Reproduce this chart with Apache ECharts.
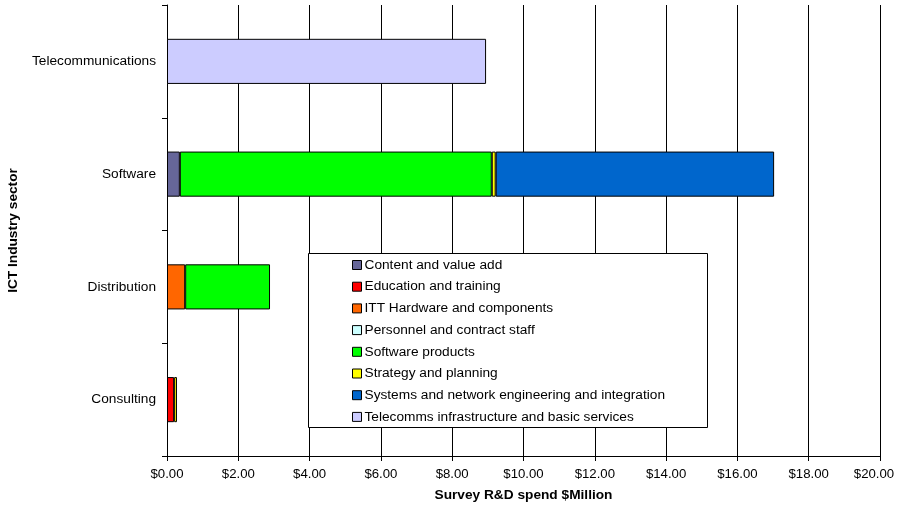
<!DOCTYPE html>
<html>
<head>
<meta charset="utf-8">
<script src="https://cdn.jsdelivr.net/npm/echarts@6/dist/echarts.min.js"></script>
<style>
  html, body { margin: 0; padding: 0; background: #fff; }
  #chart { width: 899px; height: 508px; }
</style>
</head>
<body>
<div id="chart"></div>
<script>
// ICT industry sectors (bottom to top)
var sectors = ['Consulting', 'Distribution', 'Software', 'Telecommunications'];

// Survey R&D spend ($Million) per spend category, one value per sector
var contentValueAdd   = [null, null, 0.36, null];
var educationTraining = [0.20, null, null, null];
var ittHardware       = [null, 0.51, null, null];
var personnelContract = [null, null, null, null];
var softwareProducts  = [null, 2.38, 8.75, null];
var strategyPlanning  = [0.08, null, 0.11, null];
var systemsNetwork    = [null, null, 7.81, null];
var telecommsInfra    = [null, null, null, 8.95];

var seriesNames = [
  'Content and value add',
  'Education and training',
  'ITT Hardware and components',
  'Personnel and contract staff',
  'Software products',
  'Strategy and planning',
  'Systems and network engineering and integration',
  'Telecomms infrastructure and basic services'
];
var seriesData = [contentValueAdd, educationTraining, ittHardware, personnelContract,
                  softwareProducts, strategyPlanning, systemsNetwork, telecommsInfra];
var seriesColors = ['#666699', '#FF0000', '#FF6600', '#CCFFFF',
                    '#00FF00', '#FFFF00', '#0066CC', '#CCCCFF'];

var xTicks = { min: 0, max: 20, interval: 2 };

var font = 'Liberation Sans, Arial, sans-serif';
var fs = 13.7;
var tickFs = 13.2;

var chart = echarts.init(document.getElementById('chart'), null, { renderer: 'canvas' });

chart.setOption({
  animation: false,
  backgroundColor: '#ffffff',
  textStyle: { fontFamily: font },
  grid: { left: 167, right: 19, top: 5, bottom: 52, containLabel: false, outerBoundsMode: 'none' },
  graphic: [{
    type: 'rect',
    z: 3,
    shape: { x: 308.5, y: 253.5, width: 399, height: 174 },
    style: { fill: '#ffffff', stroke: '#000000', lineWidth: 1 }
  }],
  legend: {
    orient: 'vertical',
    left: 352,
    top: 258,
    z: 4,
    padding: 0,
    itemWidth: 9,
    itemHeight: 9,
    itemGap: 7.7,
    icon: 'rect',
    align: 'left',
    selectedMode: false,
    itemStyle: { borderColor: '#000000', borderWidth: 1 },
    textStyle: { fontFamily: font, fontSize: fs, color: '#000000', lineHeight: 14, padding: [0, 0, 0, -2] },
    data: seriesNames
  },
  xAxis: {
    type: 'value',
    min: xTicks.min,
    max: xTicks.max,
    interval: xTicks.interval,
    name: 'Survey R&D spend $Million',
    nameLocation: 'middle',
    nameGap: 32,
    nameTextStyle: { fontFamily: font, fontSize: fs, fontWeight: 'bold', color: '#000000' },
    axisLine: { show: true, lineStyle: { color: '#000000', width: 1 } },
    axisTick: { show: true, length: 5, lineStyle: { color: '#000000' } },
    axisLabel: {
      fontFamily: font, fontSize: tickFs, color: '#000000', margin: 12,
      formatter: function (v) {
        var s = '$' + v.toFixed(2);
        // last label is nudged left so it stays inside the canvas
        return v === xTicks.max ? '{last|' + s + '}' : s;
      },
      rich: {
        last: { fontFamily: font, fontSize: tickFs, color: '#000000', padding: [0, 12, 0, 0] }
      }
    },
    splitLine: { show: true, lineStyle: { color: '#000000', width: 1 } }
  },
  yAxis: {
    type: 'category',
    data: sectors,
    name: 'ICT Industry sector',
    nameLocation: 'middle',
    nameGap: 147,
    nameRotate: 90,
    nameTextStyle: { fontFamily: font, fontSize: fs, fontWeight: 'bold', color: '#000000' },
    axisLine: { show: true, lineStyle: { color: '#000000', width: 1 } },
    axisTick: { show: true, length: 5, alignWithLabel: false, lineStyle: { color: '#000000' } },
    axisLabel: { fontFamily: font, fontSize: fs, color: '#000000', margin: 11 },
    splitLine: { show: false }
  },
  series: seriesNames.map(function (name, i) {
    return {
      name: name,
      type: 'bar',
      stack: 'spend',
      barWidth: '40%',
      data: seriesData[i],
      itemStyle: { color: seriesColors[i], borderColor: '#000000', borderWidth: 1 }
    };
  })
});
</script>
</body>
</html>
